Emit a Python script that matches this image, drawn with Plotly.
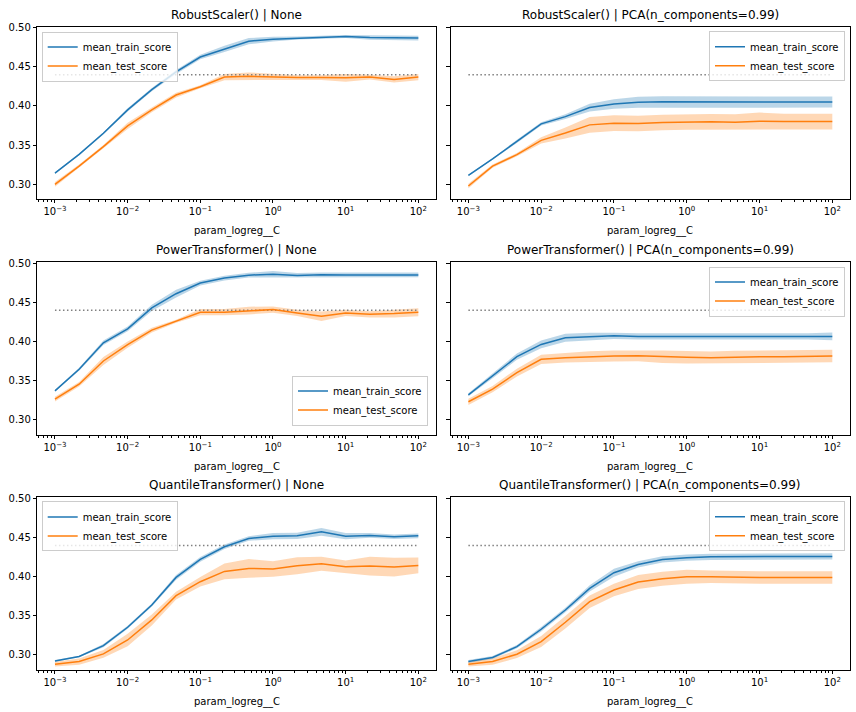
import plotly.graph_objects as go

# ---------------- data ----------------
C_VALUES = [0.001, 0.00215, 0.00464, 0.01, 0.0215, 0.0464, 0.1, 0.215, 0.464,
            1.0, 2.15, 4.64, 10.0, 21.5, 46.4, 100.0]
X_TICK_VALS = [1e-3, 1e-2, 1e-1, 1e0, 1e1, 1e2]
X_TICK_TEXT = ["10<sup>\u22123</sup>", "10<sup>\u22122</sup>", "10<sup>\u22121</sup>",
               "10<sup>0</sup>", "10<sup>1</sup>", "10<sup>2</sup>"]
Y_TICK_VALS = [0.30, 0.35, 0.40, 0.45, 0.50]
Y_TICK_TEXT = ["0.30", "0.35", "0.40", "0.45", "0.50"]
REFERENCE_SCORE = 0.44

TITLES = [
    "RobustScaler() | None",
    "RobustScaler() | PCA(n_components=0.99)",
    "PowerTransformer() | None",
    "PowerTransformer() | PCA(n_components=0.99)",
    "QuantileTransformer() | None",
    "QuantileTransformer() | PCA(n_components=0.99)",
]

robust_none_train = [0.314, 0.338, 0.365, 0.395, 0.421, 0.4436, 0.4627, 0.473, 0.483,
                     0.4856, 0.487, 0.4877, 0.489, 0.4877, 0.487, 0.487]
robust_none_train_std = [0.001, 0.001, 0.0015, 0.002, 0.002, 0.0025, 0.003, 0.004, 0.004,
                         0.003, 0.002, 0.002, 0.002, 0.003, 0.003, 0.003]
robust_none_test = [0.2996, 0.323, 0.348, 0.3746, 0.395, 0.414, 0.4246, 0.437, 0.438,
                    0.437, 0.4364, 0.4364, 0.436, 0.437, 0.434, 0.437]
robust_none_test_std = [0.003, 0.002, 0.002, 0.004, 0.003, 0.003, 0.002, 0.004, 0.005,
                        0.004, 0.003, 0.003, 0.005, 0.003, 0.004, 0.004]

robust_pca_train = [0.311, 0.3322, 0.3547, 0.3771, 0.3864, 0.398, 0.4025, 0.4047, 0.4055,
                    0.4055, 0.4055, 0.4055, 0.405, 0.405, 0.405, 0.405]
robust_pca_train_std = [0.001, 0.001, 0.002, 0.002, 0.003, 0.005, 0.006, 0.007, 0.007,
                        0.007, 0.007, 0.007, 0.007, 0.007, 0.007, 0.007]
robust_pca_test = [0.2975, 0.3229, 0.3377, 0.356, 0.3653, 0.3758, 0.378, 0.3775, 0.3788,
                   0.3797, 0.3797, 0.3793, 0.3805, 0.380, 0.380, 0.380]
robust_pca_test_std = [0.003, 0.002, 0.002, 0.004, 0.007, 0.010, 0.010, 0.010, 0.010,
                       0.010, 0.010, 0.010, 0.011, 0.010, 0.010, 0.010]

power_none_train = [0.3369, 0.3644, 0.3983, 0.4161, 0.4428, 0.461, 0.4746, 0.481, 0.4847,
                    0.486, 0.4843, 0.4852, 0.485, 0.485, 0.485, 0.485]
power_none_train_std = [0.001, 0.002, 0.003, 0.003, 0.004, 0.005, 0.003, 0.003, 0.003,
                        0.004, 0.003, 0.003, 0.003, 0.003, 0.003, 0.003]
power_none_test = [0.3263, 0.3453, 0.375, 0.396, 0.4144, 0.4258, 0.4373, 0.4373, 0.4394,
                   0.4407, 0.4364, 0.4322, 0.4364, 0.4347, 0.4356, 0.4373]
power_none_test_std = [0.003, 0.003, 0.005, 0.004, 0.003, 0.002, 0.004, 0.004, 0.005,
                       0.004, 0.004, 0.006, 0.004, 0.004, 0.005, 0.005]

power_pca_train = [0.3318, 0.356, 0.3805, 0.3962, 0.4047, 0.406, 0.4072, 0.4064, 0.4064,
                   0.406, 0.4064, 0.4064, 0.4064, 0.4064, 0.4064, 0.4064]
power_pca_train_std = [0.002, 0.003, 0.004, 0.005, 0.005, 0.005, 0.004, 0.004, 0.004,
                       0.004, 0.004, 0.004, 0.004, 0.004, 0.004, 0.005]
power_pca_test = [0.3229, 0.339, 0.3602, 0.3771, 0.3792, 0.3805, 0.3814, 0.3818, 0.3805,
                  0.3797, 0.3792, 0.3801, 0.3805, 0.3805, 0.381, 0.3814]
power_pca_test_std = [0.004, 0.004, 0.005, 0.006, 0.006, 0.007, 0.007, 0.007, 0.008,
                      0.008, 0.008, 0.008, 0.008, 0.008, 0.008, 0.008]

quantile_none_train = [0.2923, 0.2979, 0.3119, 0.3353, 0.3638, 0.3991, 0.4221, 0.4383, 0.4489,
                       0.4519, 0.4523, 0.4574, 0.4519, 0.4528, 0.4511, 0.4523]
quantile_none_train_std = [0.001, 0.001, 0.002, 0.002, 0.002, 0.003, 0.003, 0.003, 0.003,
                           0.004, 0.004, 0.005, 0.004, 0.003, 0.003, 0.003]
quantile_none_test = [0.2881, 0.2915, 0.3013, 0.3191, 0.3447, 0.3757, 0.3936, 0.4068, 0.4106,
                      0.4098, 0.414, 0.4166, 0.4128, 0.4136, 0.4123, 0.4145]
quantile_none_test_std = [0.003, 0.004, 0.005, 0.008, 0.007, 0.005, 0.006, 0.010, 0.012,
                          0.010, 0.011, 0.009, 0.008, 0.012, 0.012, 0.010]

quantile_pca_train = [0.2915, 0.2966, 0.3106, 0.3328, 0.3574, 0.3851, 0.4051, 0.4157, 0.4221,
                      0.4243, 0.4255, 0.4255, 0.426, 0.426, 0.426, 0.426]
quantile_pca_train_std = [0.002, 0.002, 0.002, 0.003, 0.003, 0.004, 0.005, 0.004, 0.004,
                          0.004, 0.004, 0.004, 0.004, 0.004, 0.004, 0.004]
quantile_pca_test = [0.2881, 0.2915, 0.3009, 0.317, 0.3417, 0.3681, 0.383, 0.3932, 0.3974,
                     0.400, 0.400, 0.3991, 0.3991, 0.3991, 0.3995, 0.3991]
quantile_pca_test_std = [0.003, 0.004, 0.005, 0.007, 0.008, 0.008, 0.008, 0.009, 0.009,
                         0.009, 0.008, 0.008, 0.008, 0.008, 0.008, 0.008]

PANELS = [
    (robust_none_train, robust_none_train_std, robust_none_test, robust_none_test_std),
    (robust_pca_train, robust_pca_train_std, robust_pca_test, robust_pca_test_std),
    (power_none_train, power_none_train_std, power_none_test, power_none_test_std),
    (power_pca_train, power_pca_train_std, power_pca_test, power_pca_test_std),
    (quantile_none_train, quantile_none_train_std, quantile_none_test, quantile_none_test_std),
    (quantile_pca_train, quantile_pca_train_std, quantile_pca_test, quantile_pca_test_std),
]

# ---------------- layout geometry ----------------
W, H = 856, 712
COL_X = [(37.3, 436.0), (450.7, 850.0)]
ROW_Y = [(22.7, 196.0), (259.3, 433.0), (496.0, 669.5)]
Y_RANGE = [0.2810, 0.5017]
X_RANGE = [-3.243, 2.243]

BLUE = "#1f77b4"
ORANGE = "#ff7f0e"
FONT = "DejaVu Sans"

minor_vals = [m * 10.0 ** e for e in range(-4, 3) for m in range(2, 10)]

# legend placement: (x, y, xanchor, yanchor) in pixels
LEGEND_POS = [
    (41.7, 27.7, "left", "top"),
    (845.0, 27.3, "right", "top"),
    (428.0, 424.0, "right", "bottom"),
    (845.0, 264.0, "right", "top"),
    (41.7, 500.3, "left", "top"),
    (845.0, 500.0, "right", "top"),
]

fig = go.Figure()
layout = dict(
    width=W, height=H,
    margin=dict(l=0, r=0, t=0, b=0),
    paper_bgcolor="white", plot_bgcolor="white",
    font=dict(family=FONT, size=10, color="black"),
    showlegend=True,
    annotations=[],
)


def rgba(hex_color, a):
    h = hex_color.lstrip("#")
    return "rgba(%d,%d,%d,%s)" % (int(h[0:2], 16), int(h[2:4], 16), int(h[4:6], 16), a)


for i, (train, train_std, test, test_std) in enumerate(PANELS):
    row, col = divmod(i, 2)
    n = i + 1
    xa = "x" if n == 1 else "x%d" % n
    ya = "y" if n == 1 else "y%d" % n
    leg = "legend" if n == 1 else "legend%d" % n

    # bands
    for mean, std, color in ((train, train_std, BLUE), (test, test_std, ORANGE)):
        upper = [m + s for m, s in zip(mean, std)]
        lower = [m - s for m, s in zip(mean, std)]
        fig.add_trace(go.Scatter(
            x=C_VALUES + C_VALUES[::-1], y=upper + lower[::-1],
            fill="toself", fillcolor=rgba(color, 0.3), line=dict(width=0),
            mode="lines", showlegend=False, hoverinfo="skip",
            xaxis=xa, yaxis=ya))
    # reference dotted line
    fig.add_trace(go.Scatter(
        x=[C_VALUES[0], C_VALUES[-1]], y=[REFERENCE_SCORE, REFERENCE_SCORE],
        mode="lines", line=dict(color="grey", width=1.5, dash="1.5px,2.5px"),
        showlegend=False, hoverinfo="skip", xaxis=xa, yaxis=ya))
    # mean lines
    fig.add_trace(go.Scatter(
        x=C_VALUES, y=train, mode="lines", name="mean_train_score",
        line=dict(color=BLUE, width=1.5), legend=leg, xaxis=xa, yaxis=ya))
    fig.add_trace(go.Scatter(
        x=C_VALUES, y=test, mode="lines", name="mean_test_score",
        line=dict(color=ORANGE, width=1.5), legend=leg, xaxis=xa, yaxis=ya))

    x0, x1 = COL_X[col]
    y0, y1 = ROW_Y[row]
    dom_x = [x0 / W, x1 / W]
    dom_y = [1 - y1 / H, 1 - y0 / H]

    layout["xaxis" if n == 1 else "xaxis%d" % n] = dict(
        domain=dom_x, anchor=ya, type="log", range=X_RANGE,
        tickmode="array", tickvals=X_TICK_VALS, ticktext=X_TICK_TEXT,
        ticks="outside", ticklen=3.5, tickwidth=0.8, tickcolor="black",
        minor=dict(tickmode="array", tickvals=minor_vals, ticks="outside",
                   ticklen=2, tickwidth=0.6, tickcolor="black", showgrid=False),
        showline=True, linecolor="black", linewidth=1, mirror=True,
        showgrid=False, zeroline=False,
        tickfont=dict(family=FONT, size=10, color="black"),
    )
    layout["yaxis" if n == 1 else "yaxis%d" % n] = dict(
        domain=dom_y, anchor=xa, range=Y_RANGE,
        tickmode="array", tickvals=Y_TICK_VALS, ticktext=Y_TICK_TEXT,
        showticklabels=(col == 0),
        ticks="outside", ticklen=3.5, tickwidth=0.8, tickcolor="black",
        showline=True, linecolor="black", linewidth=1, mirror=True,
        showgrid=False, zeroline=False,
        tickfont=dict(family=FONT, size=10, color="black"),
    )

    # subplot title
    layout["annotations"].append(dict(
        text=TITLES[i], xref="paper", yref="paper",
        x=(dom_x[0] + dom_x[1]) / 2, y=dom_y[1], xanchor="center", yanchor="bottom",
        yshift=3, showarrow=False, font=dict(family=FONT, size=12, color="black")))
    # x-axis title
    layout["annotations"].append(dict(
        text="param_logreg__C", xref="paper", yref="paper",
        x=(dom_x[0] + dom_x[1]) / 2, y=dom_y[0], xanchor="center", yanchor="middle",
        yshift=-32, showarrow=False, font=dict(family=FONT, size=10, color="black")))

    lx, ly, xan, yan = LEGEND_POS[i]
    layout[leg] = dict(
        x=lx / W, y=1 - ly / H, xanchor=xan, yanchor=yan,
        xref="paper", yref="paper",
        bgcolor="rgba(255,255,255,0.8)", bordercolor="#cccccc", borderwidth=1,
        font=dict(family=FONT, size=10, color="black"),
        itemwidth=30, tracegroupgap=0,
    )

fig.update_layout(**layout)
fig.write_html("out.html")
